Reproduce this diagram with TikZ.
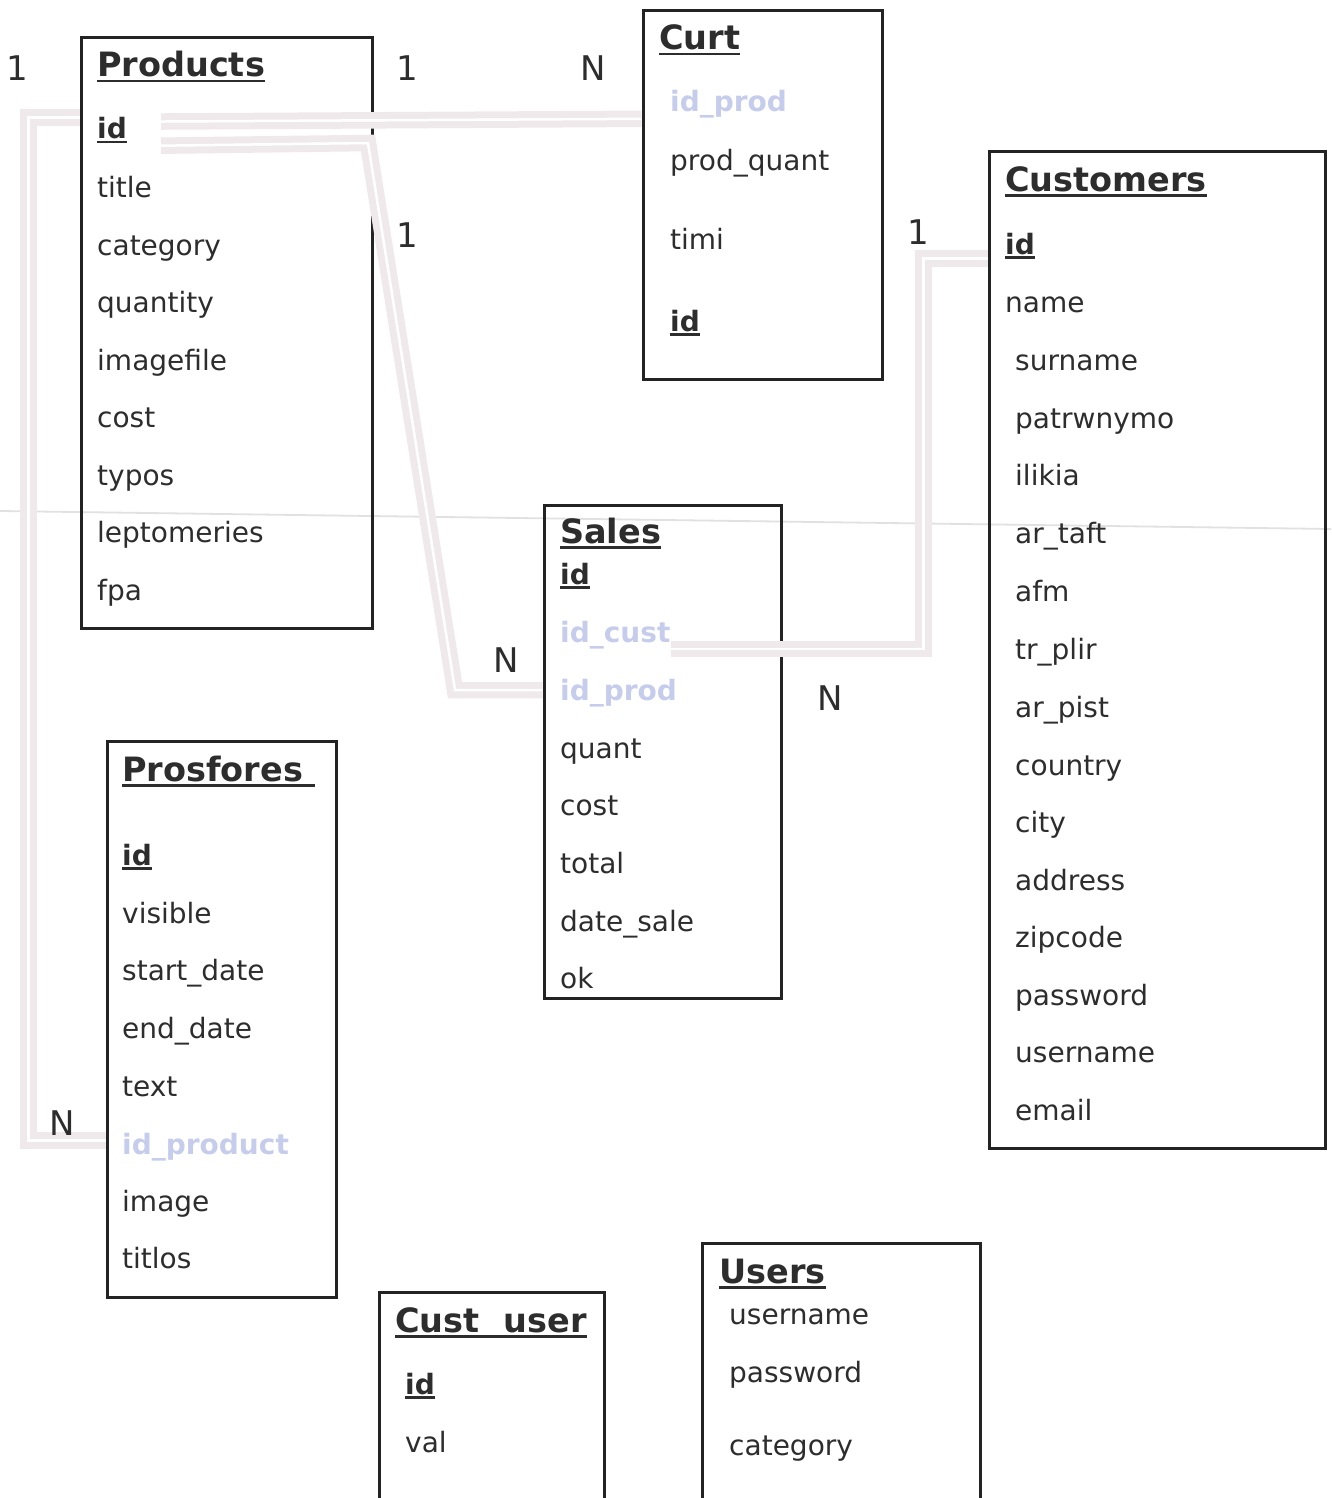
\documentclass[tikz,border=0pt]{standalone}
\usepackage{fontspec}
\setmainfont{DejaVu Sans}
\newcommand\myul[2]{\setbox0\hbox{#2}\rlap{\rule[#1]{\wd0}{2.4pt}}\box0}
\definecolor{boxc}{RGB}{35,35,35}
\definecolor{txtc}{RGB}{45,45,45}
\definecolor{fainttxt}{RGB}{198,205,236}
\definecolor{connc}{RGB}{240,233,235}
\definecolor{scanc}{RGB}{225,225,225}
\tikzset{
  tbl/.style={draw=boxc,line width=3pt,inner sep=0pt,rectangle},
  tblopen/.style={draw=none,inner sep=0pt,rectangle},
  fld/.style={anchor=base west,inner sep=0pt,text=txtc,font=\fontsize{28}{32}\selectfont},
  key/.style={anchor=base west,inner sep=0pt,text=txtc,font=\fontsize{28}{32}\selectfont\bfseries},
  fk/.style={anchor=base west,inner sep=0pt,text=fainttxt,font=\fontsize{28}{32}\selectfont\bfseries},
  ttl/.style={anchor=base west,inner sep=0pt,text=txtc,font=\fontsize{33.5}{38}\selectfont\bfseries},
  card/.style={anchor=center,inner sep=0pt,text=txtc,font=\fontsize{34}{38}\selectfont},
  conn/.style={draw=connc,line width=7pt,double=white!98!connc,double distance=2.5pt},
}
\begin{document}
\begin{tikzpicture}[x=1pt,y=-1pt]
\useasboundingbox[fill=white] (0,0) rectangle (1331,1498);
% faint scan seam
\draw[scanc,line width=1.8pt] (0,511) -- (1331,529);

% ---------- tables ----------
\node[tbl,minimum width=291pt,minimum height=590pt] (products) at (226.5,333) {};
\node[tbl,minimum width=239pt,minimum height=368pt] (curt) at (762.5,195) {};
\node[tbl,minimum width=336pt,minimum height=996pt] (customers) at (1157,650) {};
\node[tbl,minimum width=237pt,minimum height=493pt] (sales) at (662.5,751.5) {};
\node[tbl,minimum width=229pt,minimum height=556pt] (prosfores) at (221.5,1019) {};
\node[tblopen,minimum width=224pt,minimum height=206pt] (custuser) at (492,1396) {};
\node[tblopen,minimum width=277pt,minimum height=255pt] (users) at (841.5,1371.5) {};
\draw[boxc,line width=3pt] (custuser.south west) -- (custuser.north west) -- (custuser.north east) -- (custuser.south east);
\draw[boxc,line width=3pt] (users.south west) -- (users.north west) -- (users.north east) -- (users.south east);

% ---------- Products ----------
\node[ttl] (prodT) at (97,77) {\myul{-5.5pt}{Products}};
\node[key] (prodid) at (97,139) {\myul{-4.5pt}{id}};
\node[fld] (prod2) at (97,197) {title};
\node[fld] (prod3) at (97,255) {category};
\node[fld] (prod4) at (97,312) {quantity};
\node[fld] (prod5) at (97,370) {imagefile};
\node[fld] (prod6) at (97,427) {cost};
\node[fld] (prod7) at (97,485) {typos};
\node[fld] (prod8) at (97,542) {leptomeries};
\node[fld] (prod9) at (97,600) {fpa};

% ---------- Curt ----------
\node[ttl] (curtT) at (659,50) {\myul{-5.5pt}{Curt}};
\node[fk] (curtidprod) at (670,112) {id\_prod};
\node[fld] (curt2) at (670,171) {prod\_quant};
\node[fld] (curt3) at (670,249) {timi};
\node[key] (curtid) at (670,331) {\myul{-4.5pt}{id}};

% ---------- Customers ----------
\node[ttl] (custT) at (1005,191) {\myul{-5.5pt}{Customers}};
\node[key] (custid) at (1005,254) {\myul{-4.5pt}{id}};
\node[fld] (cust2) at (1005,312) {name};
\node[fld] (cust3) at (1015,370) {surname};
\node[fld] (cust4) at (1015,428) {patrwnymo};
\node[fld] (cust5) at (1015,485) {ilikia};
\node[fld] (cust6) at (1015,543) {ar\_taft};
\node[fld] (cust7) at (1015,601) {afm};
\node[fld] (cust8) at (1015,659) {tr\_plir};
\node[fld] (cust9) at (1015,717) {ar\_pist};
\node[fld] (cust10) at (1015,775) {country};
\node[fld] (cust11) at (1015,832) {city};
\node[fld] (cust12) at (1015,890) {address};
\node[fld] (cust13) at (1015,947) {zipcode};
\node[fld] (cust14) at (1015,1005) {password};
\node[fld] (cust15) at (1015,1062) {username};
\node[fld] (cust16) at (1015,1120) {email};

% ---------- Sales ----------
\node[ttl] (salesT) at (560,543) {\myul{-5.5pt}{Sales}};
\node[key] (salesid) at (560,584) {\myul{-4.5pt}{id}};
\node[fk] (salesidcust) at (560,642) {id\_cust};
\node[fk] (salesidprod) at (560,700) {id\_prod};
\node[fld] (sales4) at (560,758) {quant};
\node[fld] (sales5) at (560,815) {cost};
\node[fld] (sales6) at (560,873) {total};
\node[fld] (sales7) at (560,931) {date\_sale};
\node[fld] (sales8) at (560,988) {ok};

% ---------- Prosfores ----------
\node[ttl] (prosT) at (122,781) {\myul{-5.5pt}{Prosfores\ }};
\node[key] (prosid) at (122,865) {\myul{-4.5pt}{id}};
\node[fld] (pros2) at (122,923) {visible};
\node[fld] (pros3) at (122,980) {start\_date};
\node[fld] (pros4) at (122,1038) {end\_date};
\node[fld] (pros5) at (122,1096) {text};
\node[fk] (prosidp) at (122,1154) {id\_product};
\node[fld] (pros7) at (122,1211) {image};
\node[fld] (pros8) at (122,1268) {titlos};

% ---------- Cust user ----------
\node[ttl] (cuT) at (395,1332) {\myul{-5.5pt}{Cust\hspace{24pt}user}};
\node[key] (cuid) at (405,1394) {\myul{-4.5pt}{id}};
\node[fld] (cuval) at (405,1452) {val};

% ---------- Users ----------
\node[ttl] (usT) at (719,1283) {\myul{-5.5pt}{Users}};
\node[fld] (us1) at (729,1324) {username};
\node[fld] (us2) at (729,1382) {password};
\node[fld] (us3) at (729,1455) {category};

% ---------- connectors ----------
\coordinate (b1) at (368,143);
\coordinate (b2) at (455,690);
\draw[conn] (prosfores.west |- prosidp.north) ++(0,8) -- ++(-77,0) |- (products.west |- prodid.north);
\draw[conn] ([xshift=34pt,yshift=-4pt]prodid.north east) -- (curt.west |- curtidprod.south);
\draw[conn] ([xshift=34pt,yshift=-2pt]prodid.south east) -- (b1) -- (b2) -- (sales.west |- b2);
\draw[conn] (customers.west |- custid.south) -- ++(-64,0) |- (salesidcust.south east);

% ---------- cardinalities ----------
\node[card] (c1) at (17,68) {1};
\node[card] (c2) at (407,68) {1};
\node[card] (c3) at (593,68) {N};
\node[card] (c4) at (407,235) {1};
\node[card] (c5) at (918,232) {1};
\node[card] (c6) at (506,660) {N};
\node[card] (c7) at (830,698) {N};
\node[card] (c8) at (62,1123) {N};
\end{tikzpicture}
\end{document}
